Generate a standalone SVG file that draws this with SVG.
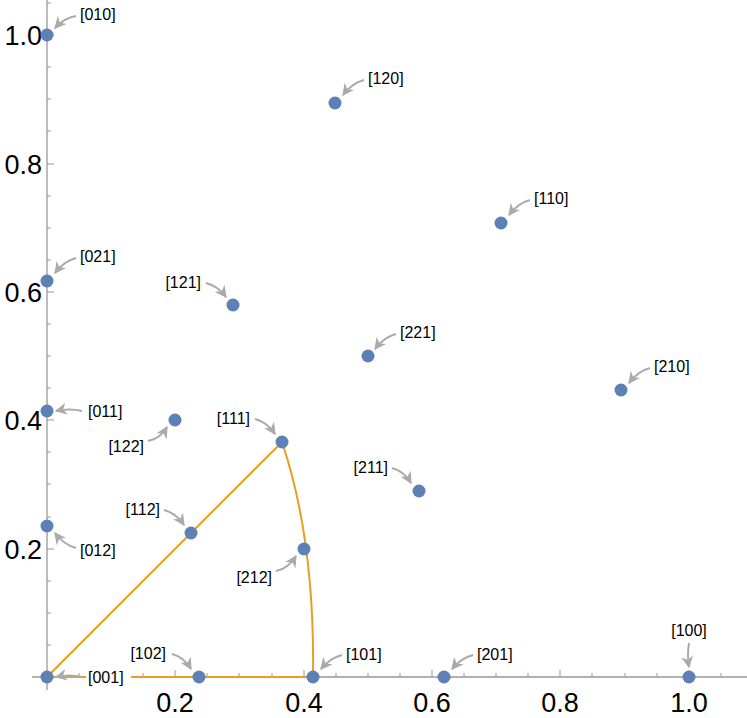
<svg xmlns="http://www.w3.org/2000/svg" width="747" height="718" viewBox="0 0 747 718">
<style>
.ax{stroke:#999;stroke-width:1.3;fill:none}
.tk{stroke:#999;stroke-width:1}
.tl{font-family:"Liberation Sans",Arial,sans-serif;font-size:27px;fill:#000}
.lb{font-family:"Liberation Sans",Arial,sans-serif;font-size:16px;fill:#000}
.ar{stroke:#aaa;stroke-width:2;fill:none;marker-end:url(#ah)}
.pt{fill:#5e81b5}
.cv{stroke:#e69f23;stroke-width:2;fill:none}
</style>
<defs>
<marker id="ah" viewBox="0 0 10 10" refX="9" refY="5" markerWidth="6" markerHeight="6" orient="auto" markerUnits="strokeWidth">
<path d="M0,0 L10,5 L0,10 L3,5 Z" fill="#aaa"/>
</marker>
</defs>
<g id="axes">
<path class="ax" d="M32,677 H747 M47,0 V690"/>
<path class="tk" d="M79,677v-4M111,677v-4M143,677v-4M175,677v-7M207,677v-4M239,677v-4M272,677v-4M304,677v-7M336,677v-4M368,677v-4M400,677v-4M432,677v-7M464,677v-4M496,677v-4M528,677v-4M560,677v-7M592,677v-4M625,677v-4M657,677v-4M689,677v-7M721,677v-4"/>
<path class="tk" d="M47,645h4M47,613h4M47,581h4M47,549h7M47,517h4M47,484h4M47,452h4M47,420h7M47,388h4M47,356h4M47,324h4M47,292h7M47,260h4M47,228h4M47,196h4M47,164h7M47,131h4M47,99h4M47,67h4M47,35h7M47,3h4"/>
<g class="tl" text-anchor="end">
<text x="42" y="45">1.0</text><text x="42" y="174">0.8</text><text x="42" y="302">0.6</text><text x="42" y="430">0.4</text><text x="42" y="559">0.2</text>
</g>
<g class="tl" text-anchor="middle">
<text x="175" y="712">0.2</text><text x="304" y="712">0.4</text><text x="432" y="712">0.6</text><text x="560" y="712">0.8</text><text x="689" y="712">1.0</text>
</g>
</g>
<g id="curve">
<path class="cv" d="M47,677 L282,442 Q315,540 313,677 L47,677"/>
</g>
<g id="connectors">
<path class="ar" d="M76,16 Q64,18 55,28"/>
<path class="ar" d="M364,80 Q352,83 343,95"/>
<path class="ar" d="M530,200 Q518,203 509,215"/>
<path class="ar" d="M76,258 Q64,261 55,273"/>
<path class="ar" d="M206,283 Q218,286 226,297"/>
<path class="ar" d="M396,334 Q384,337 375,349"/>
<path class="ar" d="M650,368 Q638,371 629,383"/>
<path class="ar" d="M82,411 Q70,408 56,411"/>
<path class="ar" d="M148,441 Q160,439 167,427"/>
<path class="ar" d="M255,419 Q267,422 275,434"/>
<path class="ar" d="M392,468 Q404,471 411,483"/>
<path class="ar" d="M76,548 Q64,545 55,533"/>
<path class="ar" d="M164,510 Q176,513 184,525"/>
<path class="ar" d="M276,571 Q288,569 296,556"/>
<path class="ar" d="M82,677 Q70,674 56,677"/>
<path class="ar" d="M172,654 Q184,657 191,669"/>
<path class="ar" d="M342,655 Q330,658 321,669"/>
<path class="ar" d="M473,655 Q461,658 452,669"/>
<path class="ar" d="M689,643 Q687,656 689,667"/>
</g>
<g id="n010"><circle class="pt" cx="47" cy="35" r="6.5"/><text class="lb" x="80" y="20">[010]</text></g>
<g id="n120"><circle class="pt" cx="335" cy="103" r="6.5"/><text class="lb" x="368" y="84">[120]</text></g>
<g id="n110"><circle class="pt" cx="501" cy="223" r="6.5"/><text class="lb" x="534" y="204">[110]</text></g>
<g id="n021"><circle class="pt" cx="47" cy="281" r="6.5"/><text class="lb" x="80" y="262">[021]</text></g>
<g id="n121"><circle class="pt" cx="233" cy="305" r="6.5"/><text class="lb" x="201" y="288" text-anchor="end">[121]</text></g>
<g id="n221"><circle class="pt" cx="368" cy="356" r="6.5"/><text class="lb" x="400" y="338">[221]</text></g>
<g id="n210"><circle class="pt" cx="621" cy="390" r="6.5"/><text class="lb" x="654" y="372">[210]</text></g>
<g id="n011"><circle class="pt" cx="47" cy="411" r="6.5"/><text class="lb" x="88" y="417">[011]</text></g>
<g id="n122"><circle class="pt" cx="175" cy="420" r="6.5"/><text class="lb" x="144" y="452" text-anchor="end">[122]</text></g>
<g id="n111"><circle class="pt" cx="282" cy="442" r="6.5"/><text class="lb" x="250" y="424" text-anchor="end">[111]</text></g>
<g id="n211"><circle class="pt" cx="419" cy="491" r="6.5"/><text class="lb" x="388" y="473" text-anchor="end">[211]</text></g>
<g id="n012"><circle class="pt" cx="47" cy="526" r="6.5"/><text class="lb" x="80" y="556">[012]</text></g>
<g id="n112"><circle class="pt" cx="191" cy="533" r="6.5"/><text class="lb" x="160" y="515" text-anchor="end">[112]</text></g>
<g id="n212"><circle class="pt" cx="304" cy="549" r="6.5"/><text class="lb" x="272" y="583" text-anchor="end">[212]</text></g>
<g id="n001"><rect x="86" y="668" width="45" height="18" fill="#fff"/><circle class="pt" cx="47" cy="677" r="6.5"/><text class="lb" x="88" y="683">[001]</text></g>
<g id="n102"><circle class="pt" cx="199" cy="677" r="6.5"/><text class="lb" x="166" y="659" text-anchor="end">[102]</text></g>
<g id="n101"><circle class="pt" cx="313" cy="677" r="6.5"/><text class="lb" x="346" y="660">[101]</text></g>
<g id="n201"><circle class="pt" cx="444" cy="677" r="6.5"/><text class="lb" x="477" y="660">[201]</text></g>
<g id="n100"><circle class="pt" cx="689" cy="677" r="6.5"/><text class="lb" x="689" y="636" text-anchor="middle">[100]</text></g>
</svg>
